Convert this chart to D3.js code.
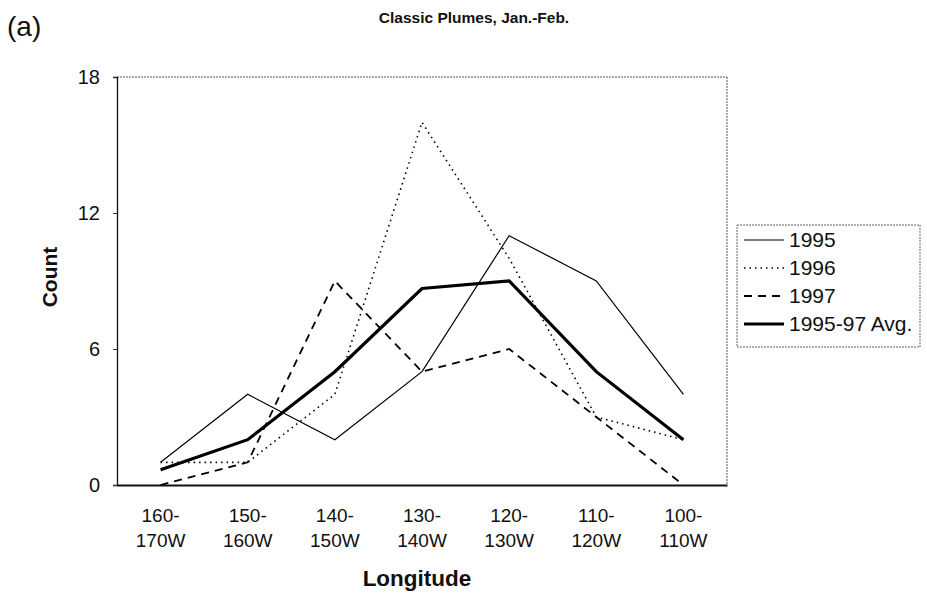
<!DOCTYPE html>
<html><head><meta charset="utf-8">
<script src="https://cdn.jsdelivr.net/npm/d3@7"></script>
<style>body{margin:0;background:#fff;} text{font-family:"Liberation Sans",Arial,sans-serif;}</style>
</head><body>
<svg id="c" width="927" height="596"></svg>
<script>
const categories = ["160-170W","150-160W","140-150W","130-140W","120-130W","110-120W","100-110W"];
const tickTop = ["160-","150-","140-","130-","120-","110-","100-"];
const tickBottom = ["170W","160W","150W","140W","130W","120W","110W"];
const s1995 = [1,4,2,5,11,9,4];
const s1996 = [1,1,4,16,10,3,2];
const s1997 = [0,1,9,5,6,3,0];
const sAvg = [0.67,2,5,8.67,9,5,2];
const yTicks = [0,6,12,18];
const seriesNames = ["1995","1996","1997","1995-97 Avg."];

const svg = d3.select("#c");
const L=117, R=727, T=77, B=485;
const x = d3.scaleBand().domain(categories).range([L,R]);
const y = d3.scaleLinear().domain([0,18]).range([B,T]);

// plot border: dotted top/right
svg.append("line").attr("x1",L).attr("x2",R).attr("y1",T).attr("y2",T).attr("stroke","#555").attr("stroke-width",1).attr("stroke-dasharray","2,1");
svg.append("line").attr("x1",R).attr("x2",R).attr("y1",T).attr("y2",B).attr("stroke","#555").attr("stroke-width",1).attr("stroke-dasharray","2,1");

// y axis
const ya = svg.append("g").attr("transform",`translate(${L},0)`)
  .call(d3.axisLeft(y).tickValues(yTicks).tickSize(4).tickPadding(13));
ya.select(".domain").attr("stroke","#111").attr("stroke-width",1.3);
ya.selectAll("text").attr("font-size",20).attr("fill","#111").attr("font-family","Liberation Sans, Arial, sans-serif");
ya.selectAll(".tick line").attr("stroke","#333");

// x axis
const xa = svg.append("g").attr("transform",`translate(0,${B})`)
  .call(d3.axisBottom(x).tickSize(0).tickFormat(""));
xa.select(".domain").attr("stroke","#111").attr("stroke-width",2);
xa.selectAll(".tick").each(function(d,i){
  const t = d3.select(this).append("text").attr("fill","#111").attr("font-size",19)
    .attr("text-anchor","middle").attr("font-family","Liberation Sans, Arial, sans-serif");
  t.append("tspan").attr("x",0).attr("y",37).text(tickTop[i]);
  t.append("tspan").attr("x",0).attr("y",62).text(tickBottom[i]);
});

const line = d3.line().x((d,i)=>x(categories[i])+x.bandwidth()/2).y(d=>y(d));
const styles = [
  {data:s1995, w:1.2, dash:null},
  {data:s1996, w:1.6, dash:"1.5,4"},
  {data:s1997, w:1.8, dash:"8,6"},
  {data:sAvg, w:3.2, dash:null}
];
styles.forEach(s=>{
  svg.append("path").datum(s.data).attr("d",line).attr("fill","none")
    .attr("stroke","#000").attr("stroke-width",s.w).attr("stroke-dasharray",s.dash)
    .attr("stroke-linejoin","miter");
});

// titles
svg.append("text").attr("x",7).attr("y",36).attr("font-size",28).attr("fill","#111").text("(a)");
svg.append("text").attr("x",474).attr("y",23).attr("text-anchor","middle").attr("font-size",15.5).attr("font-weight","bold").attr("fill","#111").text("Classic Plumes, Jan.-Feb.");
svg.append("text").attr("transform","translate(57,277) rotate(-90)").attr("text-anchor","middle").attr("font-size",21).attr("font-weight","bold").attr("fill","#111").text("Count");
svg.append("text").attr("x",417).attr("y",586).attr("text-anchor","middle").attr("font-size",22.5).attr("font-weight","bold").attr("fill","#111").text("Longitude");

// legend
const lg = svg.append("g");
lg.append("rect").attr("x",737).attr("y",225).attr("width",183).attr("height",122)
  .attr("fill","none").attr("stroke","#666").attr("stroke-width",1).attr("stroke-dasharray","2,1");
seriesNames.forEach((n,i)=>{
  const yy = 247 + i*28;
  lg.append("line").attr("x1",744).attr("x2",784).attr("y1",yy-7).attr("y2",yy-7)
    .attr("stroke","#000").attr("stroke-width",styles[i].w).attr("stroke-dasharray",styles[i].dash);
  lg.append("text").attr("x",789).attr("y",yy).attr("font-size",21).attr("fill","#111").text(n);
});
</script>
</body></html>
